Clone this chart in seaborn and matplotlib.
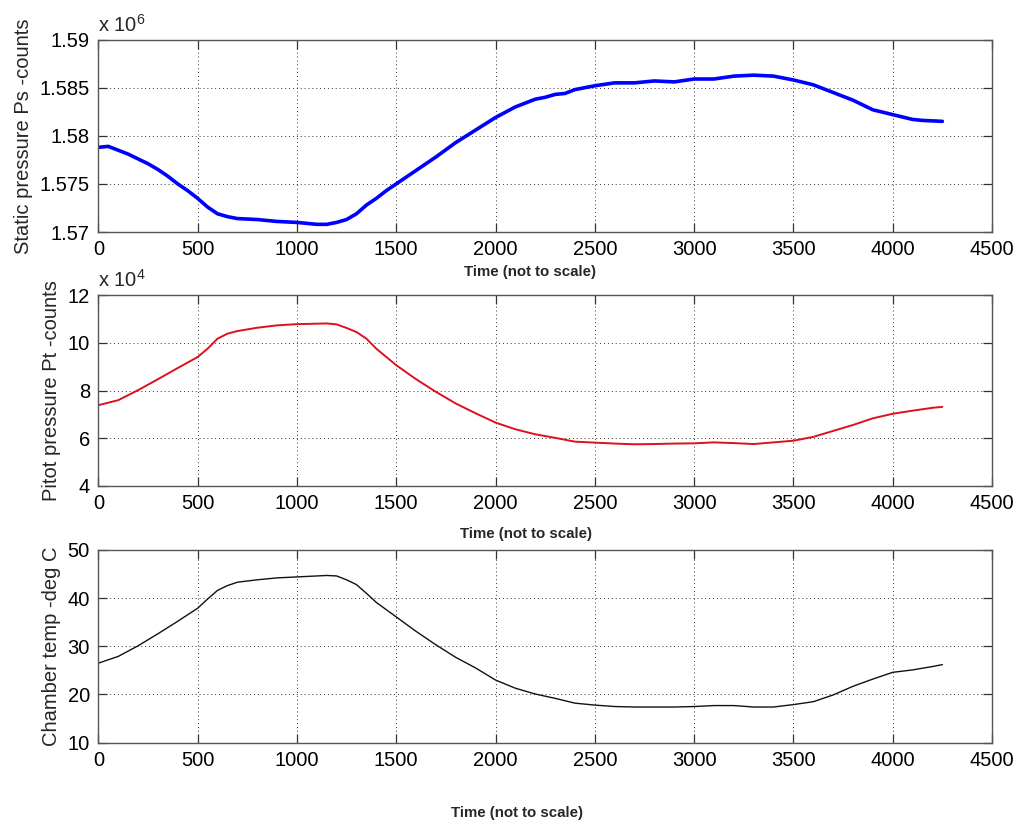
import matplotlib
matplotlib.use("Agg")
import matplotlib.pyplot as plt
import matplotlib.ticker as mticker
import seaborn as sns
import pandas as pd

# ---- data ----
time_ps = [0, 50, 100, 150, 200, 250, 300, 350, 400, 450, 500, 550, 600, 650, 700,
           800, 900, 1000, 1100, 1150, 1200, 1250, 1300, 1350, 1400, 1450, 1500,
           1600, 1700, 1800, 1900, 2000, 2100, 2200, 2250, 2300, 2350, 2400, 2500,
           2600, 2700, 2800, 2900, 3000, 3100, 3200, 3300, 3400, 3500, 3600, 3700,
           3800, 3900, 4000, 4100, 4150, 4250]
static_ps = [1578800, 1578900, 1578500, 1578100, 1577600, 1577100, 1576500, 1575800,
             1575000, 1574300, 1573500, 1572600, 1571900, 1571600, 1571400, 1571300,
             1571100, 1571000, 1570800, 1570800, 1571000, 1571300, 1571900, 1572800,
             1573500, 1574300, 1575000, 1576400, 1577800, 1579300, 1580600, 1581900,
             1583000, 1583800, 1584000, 1584300, 1584400, 1584800, 1585200, 1585500,
             1585500, 1585700, 1585600, 1585900, 1585900, 1586200, 1586300, 1586200,
             1585800, 1585300, 1584500, 1583700, 1582700, 1582200, 1581700, 1581600,
             1581500]

time_pt = [0, 100, 200, 300, 400, 500, 550, 600, 650, 700, 800, 900, 1000, 1100,
           1150, 1200, 1250, 1300, 1350, 1400, 1500, 1600, 1700, 1800, 1900, 2000,
           2100, 2200, 2300, 2400, 2500, 2600, 2700, 2800, 2900, 3000, 3100, 3200,
           3300, 3400, 3500, 3600, 3700, 3800, 3900, 4000, 4100, 4200, 4250]
pitot_pt = [73900, 76000, 80200, 84800, 89500, 94100, 97600, 101800, 103900, 105000,
            106400, 107400, 107900, 108100, 108200, 107800, 106300, 104600, 101800,
            97600, 90700, 84800, 79500, 74600, 70500, 66600, 63800, 61700, 60200,
            58600, 58200, 57800, 57500, 57600, 57800, 57900, 58300, 58000, 57600,
            58300, 59000, 60600, 63100, 65600, 68400, 70300, 71600, 72800, 73200]

time_tc = [0, 100, 200, 300, 400, 500, 550, 600, 650, 700, 800, 900, 1000, 1100,
           1150, 1200, 1250, 1300, 1350, 1400, 1500, 1600, 1700, 1800, 1900, 2000,
           2100, 2200, 2300, 2400, 2500, 2600, 2700, 2800, 2900, 3000, 3100, 3200,
           3300, 3400, 3500, 3600, 3700, 3800, 3900, 4000, 4100, 4200, 4250]
chamber_tc = [26.5, 27.9, 30.1, 32.6, 35.2, 37.9, 39.8, 41.6, 42.6, 43.3, 43.8, 44.2,
              44.4, 44.6, 44.7, 44.6, 43.8, 42.8, 41.0, 39.1, 36.1, 33.1, 30.3, 27.7,
              25.5, 23.0, 21.3, 20.1, 19.2, 18.2, 17.8, 17.5, 17.4, 17.4, 17.4, 17.5,
              17.7, 17.7, 17.4, 17.4, 17.9, 18.5, 19.9, 21.7, 23.2, 24.6, 25.1, 25.8,
              26.2]

x_ticks = [0, 500, 1000, 1500, 2000, 2500, 3000, 3500, 4000, 4500]
ps_ticks = [1570000, 1575000, 1580000, 1585000, 1590000]
pt_ticks = [40000, 60000, 80000, 100000, 120000]
tc_ticks = [10, 20, 30, 40, 50]

xlabel_text = "Time (not to scale)"
ylabels = ["Static pressure Ps -counts", "Pitot pressure Pt -counts", "Chamber temp -deg C"]

# ---- style ----
sns.set_style("ticks")
plt.rcParams['font.family'] = ['Liberation Sans', 'DejaVu Sans']
plt.rcParams['mathtext.fontset'] = 'custom'
plt.rcParams['mathtext.rm'] = 'Liberation Sans'

fig = plt.figure(figsize=(10.21, 8.24), dpi=100)
fig.patch.set_facecolor('white')

left, width = 0.0963, 0.8753
ax1 = fig.add_axes([left, 0.7184, width, 0.2336])
ax2 = fig.add_axes([left, 0.4102, width, 0.2314])
ax3 = fig.add_axes([left, 0.0987, width, 0.2339])

df1 = pd.DataFrame({"t": time_ps, "v": static_ps})
df2 = pd.DataFrame({"t": time_pt, "v": pitot_pt})
df3 = pd.DataFrame({"t": time_tc, "v": chamber_tc})

sns.lineplot(data=df1, x="t", y="v", ax=ax1, color="#0000ff", linewidth=2.6, estimator=None)
sns.lineplot(data=df2, x="t", y="v", ax=ax2, color="#dd1020", linewidth=1.4, estimator=None)
sns.lineplot(data=df3, x="t", y="v", ax=ax3, color="#111111", linewidth=1.0, estimator=None)

specs = [
    (ax1, ps_ticks, lambda v, p: f"{v/1e6:g}", "x 10$^{6}$", 1.039, (0.483, -0.171)),
    (ax2, pt_ticks, lambda v, p: f"{v/1e4:g}", "x 10$^{4}$", 1.044, (0.478, -0.215)),
    (ax3, tc_ticks, lambda v, p: f"{v:g}", None, None, (0.468, -0.328)),
]

for (ax, yt, fmt, off, offy, lc), yl in zip(specs, ylabels):
    ax.set_xlim(0, 4500)
    ax.set_ylim(yt[0], yt[-1])
    ax.set_xticks(x_ticks)
    ax.set_yticks(yt)
    ax.yaxis.set_major_formatter(mticker.FuncFormatter(fmt))
    ax.tick_params(direction='in', length=6.5, width=0.9, top=True, right=True,
                   labelsize=14.5, pad=6, colors='#333333', labelcolor='black')
    ax.grid(True, color='black', linestyle=(0, (1, 3)), linewidth=0.7, alpha=0.8)
    for s in ax.spines.values():
        s.set_color('#555555')
        s.set_linewidth(1.0)
    ax.set_ylabel(yl, fontsize=14.5, labelpad=5)
    ax.set_xlabel(xlabel_text, fontsize=10.8, fontweight='bold')
    ax.xaxis.set_label_coords(lc[0], lc[1])
    if off:
        ax.text(0.0, offy, off, transform=ax.transAxes, ha='left', va='baseline',
                fontsize=14.5)

fig.savefig("out.png", dpi=100, facecolor='white')
